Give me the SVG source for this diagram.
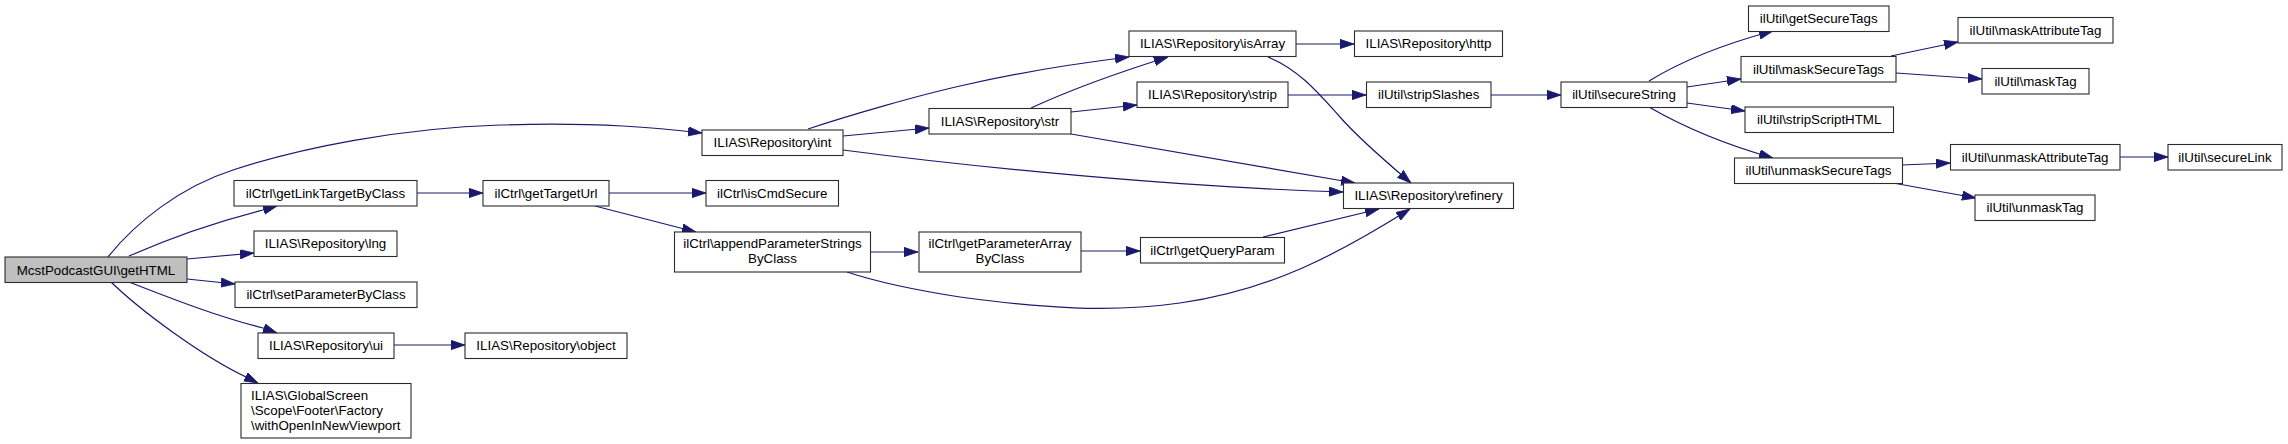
<svg xmlns="http://www.w3.org/2000/svg" width="2288" height="444" viewBox="0 0 2288 444">
<defs>
<style>
.node rect{fill:#ffffff;stroke:#2b2b2b;stroke-width:1.1}
.node.root rect{fill:#bfbfbf}
.node text{font-family:"Liberation Sans",Arial,Helvetica,sans-serif;font-size:13.33px;fill:#000000;text-anchor:middle}
.node text.l{text-anchor:start}
#edges path{fill:none;stroke:#191970;stroke-width:1.2;marker-end:url(#arr)}
</style>
<marker id="arr" markerUnits="userSpaceOnUse" markerWidth="15" markerHeight="10" refX="14" refY="4.65" orient="auto">
<path d="M0,0 L14,4.65 L0,9.3 Z" fill="#191970" stroke="#191970" stroke-width="0.8"/>
</marker>
</defs>
<rect x="0" y="0" width="2288" height="444" fill="#ffffff"/>
<g id="edges">
<path d="M108,257 C135,223 180,187 233,170 C300,148 400,128 500,125 C600,122 660,128 702,133"/>
<path d="M129,256 C170,238 215,222 263,210 L277,206"/>
<path d="M187,259 L254,253"/>
<path d="M187,279 L235,284"/>
<path d="M129,282 C165,296 215,316 263,328 L277,333"/>
<path d="M111,282 C140,310 200,355 246,377 L258,383"/>
<path d="M417,193 L483,193"/>
<path d="M609,193 L706,193"/>
<path d="M595,206 L696,232"/>
<path d="M871,252 L918,252"/>
<path d="M847,272 C880,283 915,290 960,297 C1040,308 1110,313 1180,303 C1270,290 1335,256 1410,209"/>
<path d="M1081,251 L1140,251"/>
<path d="M1263,237 L1379,209"/>
<path d="M808,129 C850,115 920,95 960,86 C1020,72 1080,63 1129,57"/>
<path d="M843,136 L929,128"/>
<path d="M843,150 C980,168 1180,187 1343,192"/>
<path d="M1031,108 C1070,90 1120,72 1168,57"/>
<path d="M1071,112 L1137,105"/>
<path d="M1071,134 L1355,183"/>
<path d="M1296,44 L1354,44"/>
<path d="M1268,57 C1300,70 1320,95 1340,117 C1360,140 1390,165 1411,183"/>
<path d="M1288,95 L1366,95"/>
<path d="M1491,95 L1561,95"/>
<path d="M1649,81 C1680,62 1720,45 1773,31"/>
<path d="M1687,87 L1741,79"/>
<path d="M1687,103 L1745,111"/>
<path d="M1649,107 C1680,125 1720,143 1773,158"/>
<path d="M1891,56 L1958,42"/>
<path d="M1896,73 L1982,79"/>
<path d="M1902,165 L1950,163"/>
<path d="M1893,183 L1976,198"/>
<path d="M2120,157 L2168,157"/>
<path d="M394,345 L465,345"/>
</g>
<g id="n_getHTML" class="node root"><rect x="5" y="257" width="182" height="25.5"/><text x="96" y="274.5">McstPodcastGUI\getHTML</text></g>
<g id="n_getLinkTargetByClass" class="node"><rect x="234" y="180.5" width="183" height="25.5"/><text x="325.5" y="197.5">ilCtrl\getLinkTargetByClass</text></g>
<g id="n_lng" class="node"><rect x="254" y="231" width="143" height="25.5"/><text x="325.5" y="248">ILIAS\Repository\lng</text></g>
<g id="n_setParameterByClass" class="node"><rect x="235" y="282" width="182" height="25.5"/><text x="326" y="299">ilCtrl\setParameterByClass</text></g>
<g id="n_ui" class="node"><rect x="258" y="333" width="136" height="25.5"/><text x="326" y="350">ILIAS\Repository\ui</text></g>
<g id="n_withOpenInNewViewport" class="node"><rect x="241" y="383.5" width="170" height="54.5"/><text class="l" x="251" y="399.5">ILIAS\GlobalScreen</text><text class="l" x="251" y="414.5">\Scope\Footer\Factory</text><text class="l" x="251" y="429.5">\withOpenInNewViewport</text></g>
<g id="n_object" class="node"><rect x="465" y="333" width="162" height="25.5"/><text x="546" y="350">ILIAS\Repository\object</text></g>
<g id="n_getTargetUrl" class="node"><rect x="483" y="180.5" width="126" height="25.5"/><text x="546" y="197.5">ilCtrl\getTargetUrl</text></g>
<g id="n_int" class="node"><rect x="702" y="130" width="141" height="25.5"/><text x="772.5" y="147">ILIAS\Repository\int</text></g>
<g id="n_isCmdSecure" class="node"><rect x="706" y="180.5" width="132.5" height="25.5"/><text x="772.3" y="197.5">ilCtrl\isCmdSecure</text></g>
<g id="n_appendParameterStringsByClass" class="node"><rect x="674.5" y="232" width="196" height="40"/><text x="772.5" y="248.3">ilCtrl\appendParameterStrings</text><text x="772.5" y="263.3">ByClass</text></g>
<g id="n_str" class="node"><rect x="929" y="108.5" width="142" height="25.5"/><text x="1000" y="125.5">ILIAS\Repository\str</text></g>
<g id="n_getParameterArrayByClass" class="node"><rect x="919" y="232" width="162" height="40"/><text x="1000" y="248.3">ilCtrl\getParameterArray</text><text x="1000" y="263.3">ByClass</text></g>
<g id="n_isArray" class="node"><rect x="1129" y="31" width="167" height="25.5"/><text x="1212.5" y="48">ILIAS\Repository\isArray</text></g>
<g id="n_strip" class="node"><rect x="1137" y="82" width="151" height="25.5"/><text x="1212.5" y="99">ILIAS\Repository\strip</text></g>
<g id="n_getQueryParam" class="node"><rect x="1140.5" y="237.5" width="144" height="25.5"/><text x="1212.5" y="254.5">ilCtrl\getQueryParam</text></g>
<g id="n_refinery" class="node"><rect x="1343.5" y="183" width="170" height="25.5"/><text x="1428.5" y="200">ILIAS\Repository\refinery</text></g>
<g id="n_http" class="node"><rect x="1354.5" y="31" width="148" height="25.5"/><text x="1428.5" y="48">ILIAS\Repository\http</text></g>
<g id="n_stripSlashes" class="node"><rect x="1366.5" y="82" width="124.5" height="25.5"/><text x="1428.7" y="99">ilUtil\stripSlashes</text></g>
<g id="n_secureString" class="node"><rect x="1561" y="82" width="126" height="25.5"/><text x="1624" y="99">ilUtil\secureString</text></g>
<g id="n_getSecureTags" class="node"><rect x="1748.5" y="6" width="140.5" height="25.5"/><text x="1818.7" y="23">ilUtil\getSecureTags</text></g>
<g id="n_maskSecureTags" class="node"><rect x="1741" y="56.5" width="155" height="25.5"/><text x="1818.5" y="73.5">ilUtil\maskSecureTags</text></g>
<g id="n_stripScriptHTML" class="node"><rect x="1745" y="107" width="148.5" height="25.5"/><text x="1819.2" y="124">ilUtil\stripScriptHTML</text></g>
<g id="n_unmaskSecureTags" class="node"><rect x="1734.5" y="158" width="168" height="25.5"/><text x="1818.5" y="175">ilUtil\unmaskSecureTags</text></g>
<g id="n_maskAttributeTag" class="node"><rect x="1958" y="17.5" width="155" height="25.5"/><text x="2035.5" y="34.5">ilUtil\maskAttributeTag</text></g>
<g id="n_maskTag" class="node"><rect x="1982" y="68.5" width="107" height="25.5"/><text x="2035.5" y="85.5">ilUtil\maskTag</text></g>
<g id="n_unmaskAttributeTag" class="node"><rect x="1950.5" y="144.5" width="169.5" height="25.5"/><text x="2035.2" y="161.5">ilUtil\unmaskAttributeTag</text></g>
<g id="n_secureLink" class="node"><rect x="2168" y="144.5" width="114" height="25.5"/><text x="2225" y="161.5">ilUtil\secureLink</text></g>
<g id="n_unmaskTag" class="node"><rect x="1975" y="195" width="120" height="25.5"/><text x="2035" y="212">ilUtil\unmaskTag</text></g>
</svg>
